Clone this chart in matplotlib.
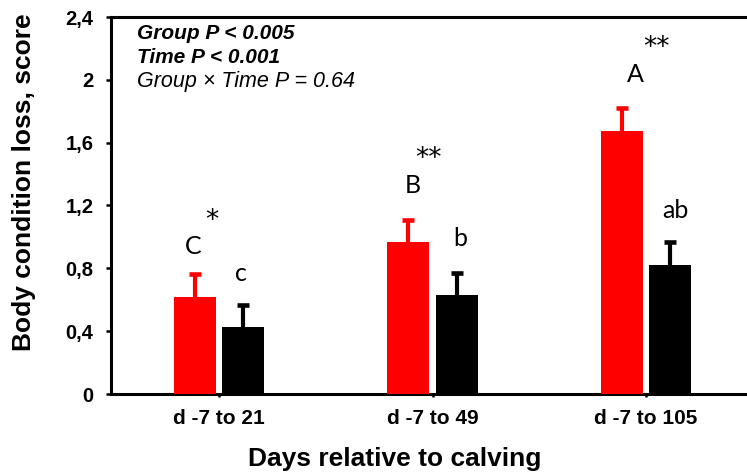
import matplotlib
matplotlib.use("Agg")
import matplotlib.pyplot as plt
import numpy as np

categories = ["d -7 to 21", "d -7 to 49", "d -7 to 105"]
red_values = [0.617, 0.97, 1.674]
red_err = [0.15, 0.14, 0.145]
black_values = [0.426, 0.63, 0.82]
black_err = [0.14, 0.14, 0.147]
yticks = [0, 0.4, 0.8, 1.2, 1.6, 2.0, 2.4]
ytick_labels = ["0", "0,4", "0,8", "1,2", "1,6", "2", "2,4"]

# letter annotations: (text, x, y)
letters = [("C", -0.122, 0.891), ("c", 0.103, 0.719),
           ("B", 0.909, 1.279), ("b", 1.129, 0.942),
           ("A", 1.948, 1.986), ("ab", 2.136, 1.12)]
stars = [("*", -0.033, 1.10), ("**", 0.979, 1.496), ("**", 2.051, 2.202)]

W, H = 747, 473
fig = plt.figure(figsize=(W/100, H/100), dpi=100)
ax = fig.add_axes([111/W, (H-394)/H, (752.75-111)/W, (394-17)/H])

x = np.arange(len(categories))
bw = 0.197
off = 0.114
capw = 0.028
red_values = np.array(red_values); red_err = np.array(red_err)
black_values = np.array(black_values); black_err = np.array(black_err)

ax.bar(x - off, red_values, bw, color="#ff0000", zorder=3)
ax.bar(x + off, black_values, bw, color="black", zorder=3)
ax.vlines(x - off, red_values, red_values + red_err, color="#ff0000", lw=3, zorder=2)
ax.hlines(red_values + red_err, x - off - capw, x - off + capw, color="#ff0000", lw=3.3, zorder=2)
ax.vlines(x + off, black_values, black_values + black_err, color="black", lw=3, zorder=2)
ax.hlines(black_values + black_err, x + off - capw, x + off + capw, color="black", lw=3.3, zorder=2)

ax.set_xlim(-0.506, 2.5)
ax.set_ylim(0, 2.4)
ax.set_yticks(yticks)
ax.set_yticklabels(ytick_labels, fontfamily="Liberation Sans", fontweight="bold", fontsize=14.5)
ax.set_xticks(x)
ax.set_xticklabels(categories, fontfamily="Liberation Sans", fontweight="bold", fontsize=15)
ax.tick_params(axis="y", direction="out", length=3.6, width=1.8, pad=9)
ax.tick_params(axis="x", direction="out", length=2.5, width=1.8, pad=8)

for s in ["left", "bottom", "top"]:
    ax.spines[s].set_linewidth(2.2)
ax.spines["right"].set_visible(False)

fig.text(24/W, 1-182.5/H, "Body condition loss, score", fontfamily="Liberation Sans",
         fontweight="bold", fontsize=19, rotation=90, ha="center", va="center")
fig.text(395/W, 1-466/H, "Days relative to calving", fontfamily="Liberation Sans",
         fontweight="bold", fontsize=19, ha="center", va="baseline")

for t, xx, yy in letters:
    ax.text(xx, yy, t, ha="center", va="baseline", fontsize=18, fontfamily="Lato")
for t, xx, yy in stars:
    ax.text(xx, yy, t, ha="center", va="center", fontsize=19, fontfamily="DejaVu Sans")

fig.text(137/W, 1-39/H, "Group P < 0.005", fontfamily="Liberation Sans", fontweight="bold",
         fontstyle="italic", fontsize=15, va="baseline")
fig.text(137/W, 1-63/H, "Time P < 0.001", fontfamily="Liberation Sans", fontweight="bold",
         fontstyle="italic", fontsize=15, va="baseline")
fig.text(137/W, 1-87/H, "Group × Time P = 0.64", fontfamily="Liberation Sans",
         fontstyle="italic", fontsize=15.5, va="baseline")

fig.savefig("out.png", dpi=100)
